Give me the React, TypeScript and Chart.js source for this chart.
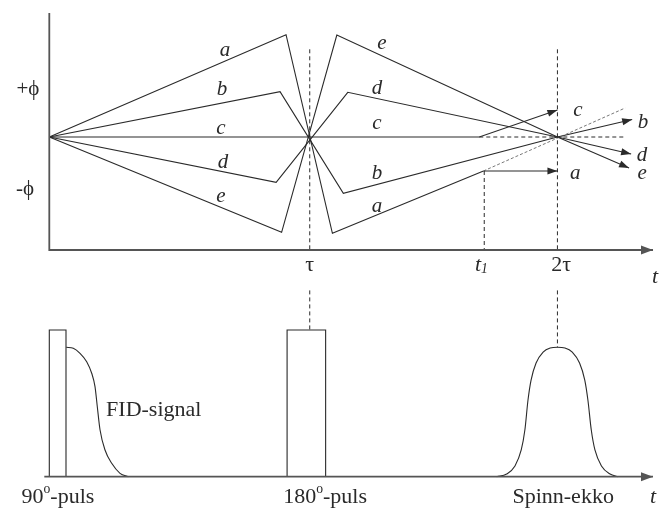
import React, { useEffect, useRef } from 'react';
import { Chart, registerables } from 'chart.js';

Chart.register(...registerables);

type P = [number, number];

// ---- scale ranges (time in units where τ = 100, phase in ϕ units, signal in pulse-height units)
const tMin = -18.93;
const tMax = 234.1;
const phaseMin = -7.48;
const phaseMax = 2.74;
const sigMin = -0.234;
const sigMax = 3.25;

// ---- time ticks
const tickValues = [100, 166.7, 195.1];
const tickLabels = ['τ', 't1', '2τ'];
const tickLabelT = [100, 165.9, 196.5];

// ---- spin phase paths (top panel)
const spinA: P[] = [[0, 0], [90.9, 2.046], [108.7, -1.926], [166.7, -0.68]];
const spinAArrow: P[] = [[166.7, -0.68], [195.1, -0.68]];
const spinB: P[] = [[0, 0], [88.6, 0.906], [112.9, -1.126], [195.1, 0], [223.8, 0.35]];
const spinC: P[] = [[0, 0], [165.1, 0], [195.1, 0.54]];
const spinD: P[] = [[0, 0], [87.1, -0.906], [114.6, 0.894], [195.1, 0], [223.4, -0.34]];
const spinE: P[] = [[0, 0], [89.2, -1.906], [110.4, 2.04], [195.1, 0], [222.6, -0.62]];
const dashA: P[] = [[166.7, -0.68], [221.1, 0.58]];
const dashC: P[] = [[165.1, 0], [221.1, 0]];
const dashTau: P[] = [[100, 1.754], [100, -2.26]];
const dashT1: P[] = [[167.0, -0.68], [167.0, -2.26]];
const dash2Tau: P[] = [[195.1, 1.754], [195.1, -2.26]];
const phaseAxis: P[] = [[0, 2.48], [0, -2.26], [231.8, -2.26]];

// ---- signal paths (bottom panel)
const baseline: P[] = [[-1.92, 0], [231.8, 0]];
const pulse90: P[] = [[0, 0], [0, 1], [6.41, 1], [6.41, 0]];
const pulse180: P[] = [[91.3, 0], [91.3, 1], [106.1, 1], [106.1, 0]];
const fid: P[] = [
  [6.5, 0.882], [9.22, 0.875], [11.79, 0.841], [14.36, 0.784], [16.28, 0.705],
  [17.55, 0.614], [18.43, 0.477], [19.47, 0.32], [21.39, 0.182], [23.96, 0.091],
  [27.15, 0.023], [30.34, 0],
];
const echo: P[] = [
  [171.8, 0], [175.6, 0.018], [178.8, 0.073], [181.2, 0.182], [182.6, 0.318],
  [183.8, 0.523], [184.98, 0.659], [186.9, 0.775], [189.6, 0.85], [192.3, 0.877],
  [195.1, 0.882], [198.0, 0.877], [200.8, 0.85], [203.6, 0.775], [205.6, 0.659],
  [206.8, 0.523], [208.1, 0.318], [209.5, 0.182], [212.0, 0.073], [215.3, 0.018], [218.4, 0],
];
const dashTauSig: P[] = [[100, 1.27], [100, 1]];
const dash2TauSig: P[] = [[195.1, 1.27], [195.1, 0.882]];

// ---- labels
const spinNames = ['a', 'b', 'c', 'd', 'e'];
const leftLabelPos: P[] = [[67.5, 1.74], [66.3, 0.96], [65.9, 0.18], [66.7, -0.5], [65.9, -1.18]];
const midLabelPos: P[] = [[125.8, -1.38], [125.8, -0.72], [125.8, 0.28], [125.8, 0.98], [127.7, 1.88]];
const endLabelPos: P[] = [[201.9, -0.72], [228.0, 0.3], [203.0, 0.54], [227.6, -0.36], [227.6, -0.72]];

type Seg = { text: string; italic?: boolean; sup?: boolean; sub?: boolean };
type Label = { segs: Seg[]; t: number; v: number; axis: 'y' | 'y2'; align?: 'center' | 'left'; size: number };

const FONT = '"Liberation Serif", "DejaVu Serif", serif';
const INK = '#2a2a2a';

function buildLabels(): Label[] {
  const out: Label[] = [];
  const groups = [leftLabelPos, midLabelPos, endLabelPos];
  groups.forEach((g) =>
    g.forEach((p, i) =>
      out.push({ segs: [{ text: spinNames[i], italic: true }], t: p[0], v: p[1], axis: 'y', size: 21 })
    )
  );
  out.push({ segs: [{ text: '+ϕ' }], t: -8.2, v: 0.96, axis: 'y', size: 21 });
  out.push({ segs: [{ text: '-ϕ' }], t: -9.3, v: -1.04, axis: 'y', size: 21 });
  tickLabels.forEach((l, i) => {
    const segs: Seg[] =
      l === 't1' ? [{ text: 't', italic: true }, { text: '1', italic: true, sub: true }] : [{ text: l }];
    out.push({ segs, t: tickLabelT[i], v: -2.56, axis: 'y', size: 22 });
  });
  out.push({ segs: [{ text: 't', italic: true }], t: 232.6, v: -2.8, axis: 'y', size: 22 });
  out.push({ segs: [{ text: '90' }, { text: 'o', sup: true }, { text: '-puls' }], t: 3.3, v: -0.138, axis: 'y2', size: 22 });
  out.push({ segs: [{ text: '180' }, { text: 'o', sup: true }, { text: '-puls' }], t: 105.9, v: -0.138, axis: 'y2', size: 22 });
  out.push({ segs: [{ text: 'Spinn-ekko' }], t: 197.3, v: -0.138, axis: 'y2', size: 22 });
  out.push({ segs: [{ text: 't', italic: true }], t: 231.8, v: -0.138, axis: 'y2', size: 22 });
  out.push({ segs: [{ text: 'FID-signal' }], t: 21.8, v: 0.455, axis: 'y2', align: 'left', size: 22 });
  return out;
}

const labelPlugin = {
  id: 'labels',
  afterDatasetsDraw(chart: any) {
    const ctx = chart.ctx as CanvasRenderingContext2D;
    const xs = chart.scales.x;
    ctx.save();
    ctx.fillStyle = INK;
    ctx.textBaseline = 'middle';
    ctx.textAlign = 'left';
    for (const lab of buildLabels()) {
      const size = lab.size;
      const ys = chart.scales[lab.axis];
      const px = xs.getPixelForValue(lab.t);
      const py = ys.getPixelForValue(lab.v);
      const fontOf = (s: Seg) => {
        const sz = s.sup || s.sub ? size * 0.62 : size;
        return `${s.italic ? 'italic ' : ''}${sz}px ${FONT}`;
      };
      let total = 0;
      const widths = lab.segs.map((s) => {
        ctx.font = fontOf(s);
        const w = ctx.measureText(s.text).width;
        total += w;
        return w;
      });
      let x = lab.align === 'left' ? px : px - total / 2;
      lab.segs.forEach((s, i) => {
        ctx.font = fontOf(s);
        const dy = s.sup ? -size * 0.32 : s.sub ? size * 0.22 : 0;
        ctx.fillText(s.text, x, py + dy);
        x += widths[i];
      });
    }
    ctx.restore();
  },
};

const arrowPlugin = {
  id: 'arrows',
  afterDatasetsDraw(chart: any) {
    const ctx = chart.ctx as CanvasRenderingContext2D;
    chart.data.datasets.forEach((ds: any) => {
      if (!ds.arrow) return;
      const xs = chart.scales.x;
      const ys = chart.scales[ds.yAxisID];
      const n = ds.data.length;
      const a = ds.data[n - 2];
      const b = ds.data[n - 1];
      const x1 = xs.getPixelForValue(a.x), y1 = ys.getPixelForValue(a.y);
      const x2 = xs.getPixelForValue(b.x), y2 = ys.getPixelForValue(b.y);
      const ang = Math.atan2(y2 - y1, x2 - x1);
      const L = ds.arrowLen ?? 10, W = ds.arrowW ?? 3.5;
      const bx = x2 - L * Math.cos(ang), by = y2 - L * Math.sin(ang);
      ctx.save();
      ctx.fillStyle = ds.borderColor;
      ctx.beginPath();
      ctx.moveTo(x2, y2);
      ctx.lineTo(bx - W * Math.sin(ang), by + W * Math.cos(ang));
      ctx.lineTo(bx + W * Math.sin(ang), by - W * Math.cos(ang));
      ctx.closePath();
      ctx.fill();
      ctx.restore();
    });
  },
};

function ds(points: P[], axis: 'y' | 'y2', opts: any = {}) {
  return {
    data: points.map(([x, y]) => ({ x, y })),
    yAxisID: axis,
    xAxisID: 'x',
    borderColor: INK,
    borderWidth: 1.1,
    pointRadius: 0,
    fill: false,
    tension: 0,
    ...opts,
  };
}

export default function App() {
  const ref = useRef<HTMLCanvasElement>(null);
  useEffect(() => {
    if (!ref.current) return;
    const dashed = { borderDash: [4, 3], borderWidth: 1 };
    const chart = new Chart(ref.current, {
      type: 'line',
      data: {
        datasets: [
          ds(phaseAxis, 'y', { borderColor: '#555', borderWidth: 1.8, arrow: true, arrowLen: 12, arrowW: 4.5 }),
          ds(dashTau, 'y', dashed),
          ds(dash2Tau, 'y', dashed),
          ds(dashT1, 'y', dashed),
          ds(dashC, 'y', dashed),
          ds(dashA, 'y', { borderDash: [3, 2], borderWidth: 0.8, borderColor: '#555' }),
          ds(spinA, 'y'),
          ds(spinAArrow, 'y', { arrow: true }),
          ds(spinB, 'y', { arrow: true }),
          ds(spinC, 'y', { arrow: true }),
          ds(spinD, 'y', { arrow: true }),
          ds(spinE, 'y', { arrow: true }),
          ds(baseline, 'y2', { borderColor: '#555', borderWidth: 1.8, arrow: true, arrowLen: 12, arrowW: 4.5 }),
          ds(pulse90, 'y2'),
          ds(pulse180, 'y2'),
          ds(fid, 'y2', { cubicInterpolationMode: 'monotone' }),
          ds(echo, 'y2', { cubicInterpolationMode: 'monotone' }),
          ds(dashTauSig, 'y2', dashed),
          ds(dash2TauSig, 'y2', dashed),
        ] as any,
      },
      options: {
        animation: false,
        responsive: false,
        events: [],
        layout: { padding: 0 },
        plugins: { legend: { display: false }, tooltip: { enabled: false } },
        scales: {
          x: { type: 'linear', min: tMin, max: tMax, display: false },
          y: { type: 'linear', min: phaseMin, max: phaseMax, display: false },
          y2: { type: 'linear', min: sigMin, max: sigMax, display: false },
        },
      },
      plugins: [arrowPlugin, labelPlugin],
    });
    return () => chart.destroy();
  }, []);
  return (
    <div style={{ position: 'absolute', left: 0, top: 0, width: 659, height: 511, background: '#fff' }}>
      <canvas ref={ref} width={659} height={511} style={{ display: 'block' }} />
    </div>
  );
}
